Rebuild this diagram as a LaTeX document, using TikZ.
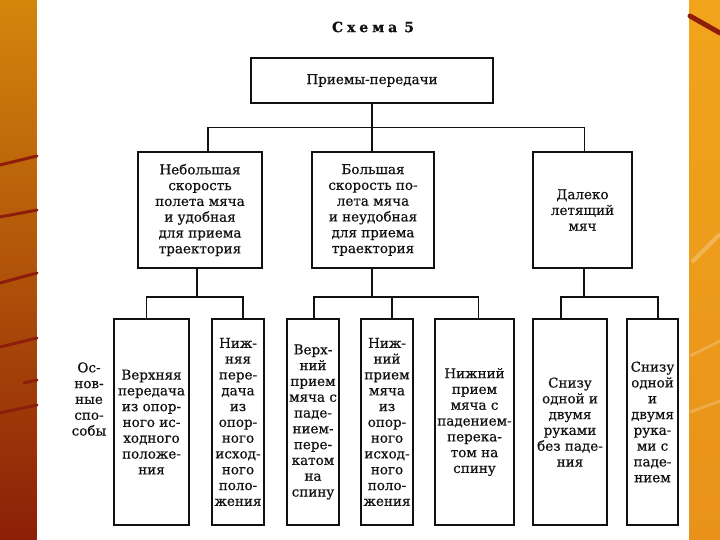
\documentclass[tikz,border=0pt]{standalone}
\usepackage{fontspec}
\setmainfont[FakeBold=0.6]{DejaVu Serif}
\usepackage{xcolor}
\usepackage{tikz}
\definecolor{leftbg}{HTML}{D4860C}
\definecolor{leftbgdark}{HTML}{8C1F07}
\definecolor{rightbg}{HTML}{F2A41C}
\definecolor{rightbgdark}{HTML}{E8921A}
\definecolor{stripe}{HTML}{8E1E0B}
\definecolor{ink}{HTML}{111111}
\newfontfamily\scanfont[FakeBold=0.5]{DejaVu Serif}

\begin{document}
\begin{tikzpicture}[
    x=1pt,y=-1pt,
    box/.style={draw=ink,line width=1.6pt,inner sep=0pt,align=center,
      font=\scanfont\fontsize{13.5}{15.8}\selectfont,text=ink},
    topbox/.style={box,minimum width=242pt,minimum height=45pt},
    midbox/.style={box,minimum height=116pt},
    leaf/.style={box,minimum height=206pt},
    wire/.style={draw=ink,line width=1.4pt},
    lbl/.style={inner sep=0pt,align=center,font=\scanfont\fontsize{13.5}{15.8}\selectfont,text=ink},
    streak/.style={line width=3pt,stripe,line cap=round}
  ]
    \useasboundingbox (0,0) rectangle (720,540);

    % slide background
    \shade[top color=leftbg,bottom color=leftbgdark] (0,0) rectangle (37,540);
    \shade[top color=rightbg,bottom color=rightbgdark] (689,0) rectangle (720,540);
    \fill[white] (37,0) rectangle (689,540);
    \draw[streak] (0,165) -- (37,156);
    \draw[streak] (0,217) -- (37,210);
    \draw[streak] (0,283) -- (37,273);
    \draw[streak] (0,347) -- (37,338);
    \draw[streak] (24,383) -- (37,380);
    \draw[streak] (0,413) -- (37,405);
    \draw[streak,line width=5pt] (690,16) -- (720,33);
    \draw[line width=4pt,white,opacity=.25] (692,262) -- (720,234);
    \draw[line width=3pt,white,opacity=.2] (690,356) -- (720,341);
    \draw[line width=3pt,white,opacity=.2] (690,412) -- (720,401);

    % heading and root
    \node[lbl,font=\fontsize{14}{16}\selectfont\bfseries] (title) at (373,27) {С\;х\;е\;м\;а\enspace 5};
    \node[topbox] (root) at (372,80.5) {Приемы-передачи};

    % ball flight
    \node[midbox,minimum width=124pt] (slow) at (200,210)
      {Небольшая\\скорость\\полета мяча\\и удобная\\для приема\\траектория};
    \node[midbox,minimum width=122pt] (fast) at (373,210)
      {Большая\\скорость по-\\лета мяча\\и неудобная\\для приема\\траектория};
    \node[midbox,minimum width=99pt] (far) at (582.5,210)
      {Далеко\\летящий\\мяч};

    % main ways
    \node[lbl] (ways) at (89,399) {Ос-\\нов-\\ные\\спо-\\собы};
    \node[leaf,minimum width=75pt] (uppass) at (151.5,422)
      {Верхняя\\передача\\из опор-\\ного ис-\\ходного\\положе-\\ния};
    \node[leaf,minimum width=52pt] (lowpass) at (238,422)
      {Ниж-\\няя\\пере-\\дача\\из\\опор-\\ного\\исход-\\ного\\поло-\\жения};
    \node[leaf,minimum width=52pt] (uproll) at (313,422)
      {Верх-\\ний\\прием\\мяча с\\паде-\\нием-\\пере-\\катом\\на\\спину};
    \node[leaf,minimum width=52pt] (lowstand) at (387,422)
      {Ниж-\\ний\\прием\\мяча\\из\\опор-\\ного\\исход-\\ного\\поло-\\жения};
    \node[leaf,minimum width=79pt] (lowroll) at (474.5,422)
      {Нижний\\прием\\мяча с\\падением-\\перека-\\том на\\спину};
    \node[leaf,minimum width=74pt] (armsno) at (570,422)
      {Снизу\\одной и\\двумя\\руками\\без паде-\\ния};
    \node[leaf,minimum width=51pt] (armsfall) at (652.5,422)
      {Снизу\\одной\\и\\двумя\\рука-\\ми с\\паде-\\нием};

    % root -> flight
    \draw[wire] (root.south) -- ++(0,24) coordinate (hub);
    \draw[wire] ([xshift=8pt]slow.north) |- (hub) -| ([xshift=2pt]far.north);
    \draw[wire] (hub) -- (hub |- fast.north);

    % flight -> ways
    \draw[wire] ([xshift=-3pt]slow.south) -- ++(0,28) coordinate (hubslow);
    \draw[wire] ([xshift=-5pt]uppass.north) |- (hubslow) -| ([xshift=5pt]lowpass.north);

    \draw[wire] ([xshift=-1pt]fast.south) -- ++(0,28) coordinate (hubfast);
    \coordinate (droplow) at ([xshift=5pt]lowstand.north);
    \draw[wire] ([xshift=1pt]uproll.north) |- (hubfast) -| ([xshift=4pt]lowroll.north);
    \draw[wire] (droplow) -- (droplow |- hubfast);

    \draw[wire] ([xshift=1.5pt]far.south) -- ++(0,28) coordinate (hubfar);
    \draw[wire] ([xshift=-9pt]armsno.north) |- (hubfar) -| ([xshift=5.5pt]armsfall.north);
  \end{tikzpicture}
\end{document}
